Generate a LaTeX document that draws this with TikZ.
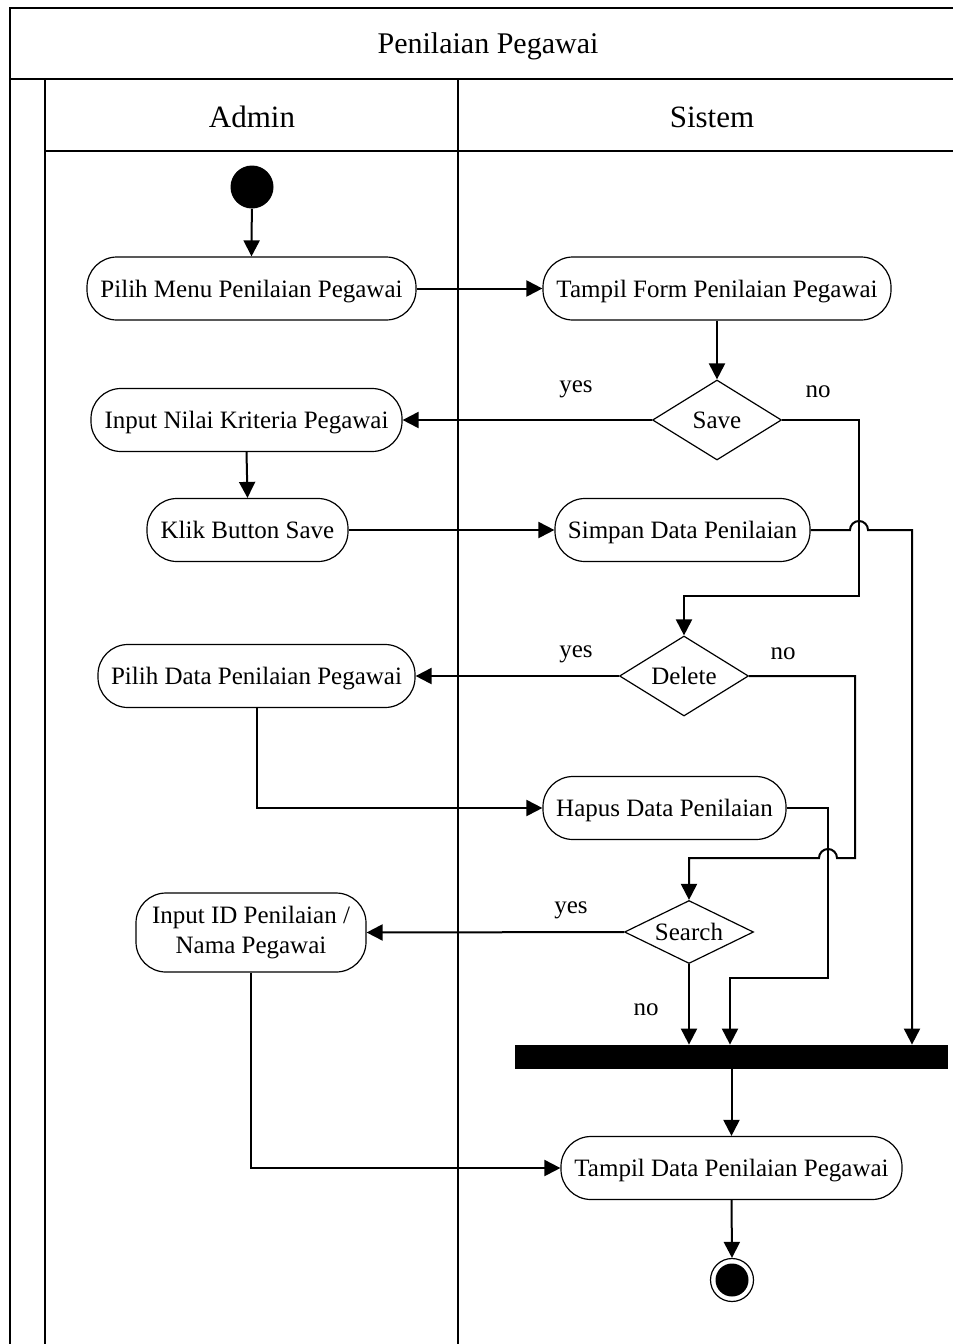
\documentclass[tikz,border=0pt]{standalone}
\usepackage{fontspec}
\setmainfont{Liberation Serif}
\usetikzlibrary{shapes.geometric,arrows.meta,calc}
\newcommand{\nodefnt}{\fontsize{12.5}{15}\selectfont}
\begin{document}
\begin{tikzpicture}[x=0.5pt,y=-0.5pt,
  act/.style={draw,line width=0.6pt,rounded corners=15pt,minimum height=31.5pt,inner sep=0pt,font=\nodefnt,align=center,text height=8.5pt,text depth=0pt},
  dec/.style={draw,line width=0.6pt,diamond,inner sep=0pt,minimum width=64.5pt,minimum height=40pt,label={[font=\nodefnt,text height=8.5pt,text depth=0pt,inner sep=0pt]center:#1}},
  flow/.style={line width=1pt,-{Triangle[length=8pt,width=8pt]}},
  lbl/.style={font=\fontsize{12.5}{14}\selectfont},
  frame/.style={line width=1.3pt}]
\useasboundingbox (0,0) rectangle (953,1344);
\begin{scope}
\clip (0,0) rectangle (953,1344);
\draw[frame] (10,1360) -- (10,8) -- (970,8);
\draw[frame] (10,79) -- (970,79);
\draw[frame] (45,79) -- (45,1360);
\draw[frame] (45,151) -- (970,151);
\draw[frame] (458,79) -- (458,1360);
\end{scope}
\node[font=\fontsize{15}{18}\selectfont] (title) at (488,46) {Penilaian Pegawai};
\node[font=\fontsize{15.5}{18}\selectfont] (admin) at (252,117) {Admin};
\node[font=\fontsize{15.5}{18}\selectfont] (sistem) at (712,117) {Sistem};

% nodes
\node[circle,fill=black,minimum size=21.5pt,inner sep=0pt] (start) at (252,187) {};
\node[act,minimum width=164.5pt] (pm) at (251.5,288.5) {Pilih Menu Penilaian Pegawai};
\node[act,minimum width=174pt] (tf) at (717,288.5) {Tampil Form Penilaian Pegawai};
\node[dec=Save] (save) at (717,420) {};
\node[act,minimum width=155.5pt] (in) at (246.5,420) {Input Nilai Kriteria Pegawai};
\node[act,minimum width=100.5pt] (kb) at (247.5,530) {Klik Button Save};
\node[act,minimum width=127.5pt] (sd) at (682.5,530) {Simpan Data Penilaian};
\node[dec=Delete] (del) at (684,676) {};
\node[act,minimum width=158.5pt] (pd) at (256.5,676) {Pilih Data Penilaian Pegawai};
\node[act,minimum width=121.5pt] (hd) at (664.5,808) {Hapus Data Penilaian};
\node[dec=Search,minimum height=31.5pt] (se) at (689,932) {};
\node[act,minimum width=115pt,minimum height=39.5pt,text height=,text depth=,font=\fontsize{12.5}{15}\selectfont] (id) at (251,932.5) {Input ID Penilaian /\\Nama Pegawai};
\node[fill=black,minimum width=216.5pt,minimum height=12pt,inner sep=0pt] (bar) at (731.5,1057) {};
\node[act,minimum width=170.5pt] (td) at (731.5,1168) {Tampil Data Penilaian Pegawai};
\node[circle,draw,line width=0.6pt,minimum size=21.5pt,inner sep=0pt] (end) at (732,1280) {};
\node[circle,fill=black,minimum size=16.5pt,inner sep=0pt] (endin) at (end.center) {};

% helper coordinates
\coordinate (c1) at (859,420);
\coordinate (c2) at (859,596);
\coordinate (c3) at (912,530);
\coordinate (c4) at (855,676);
\coordinate (c5) at (855,858);
\coordinate (c6) at (828,808);
\coordinate (c7) at (828,978);
\coordinate (c8) at (730,978);

% connectors
\draw[flow] (start) -- (pm.north);
\draw[flow] (pm.east) -- (tf.west);
\draw[flow] (tf.south) -- (save.north);
\draw[flow] (save.west) -- (in.east);
\draw[flow] (save.east) -- (c1) -- (c2) -| (del.north);
\draw[flow] (in.south) -- (kb.north);
\draw[flow] (kb.east) -- (sd.west);
\draw[flow] (sd.east) -- (850,530) arc[start angle=180,end angle=0,radius=4.5pt] -- (c3) -- (c3 |- bar.north);
\draw[flow] (del.west) -- (pd.east);
\draw[flow] (del.east) -- (c4) -- (c5) -- (837,858) arc[start angle=0,end angle=180,radius=4.5pt] -| (se.north);
\draw[flow] (pd.south) |- (hd.west);
\draw[flow] (hd.east) -- (c6) -- (c7) -- (c8) -- (c8 |- bar.north);
\draw[flow] (se.west) -- (id.east);
\draw[flow] (se.south) -- (se.south |- bar.north);
\draw[flow] (bar.south) -- (td.north);
\draw[flow] (id.south) |- (td.west);
\draw[flow] (td.south) -- (end.north);

% labels
\node[lbl] (y1) at (576,389) {yes};
\node[lbl] (n1) at (818,392) {no};
\node[lbl] (y2) at (576,654) {yes};
\node[lbl] (n2) at (783,654) {no};
\node[lbl] (y3) at (571,910) {yes};
\node[lbl] (n3) at (646,1010) {no};
\end{tikzpicture}
\end{document}
